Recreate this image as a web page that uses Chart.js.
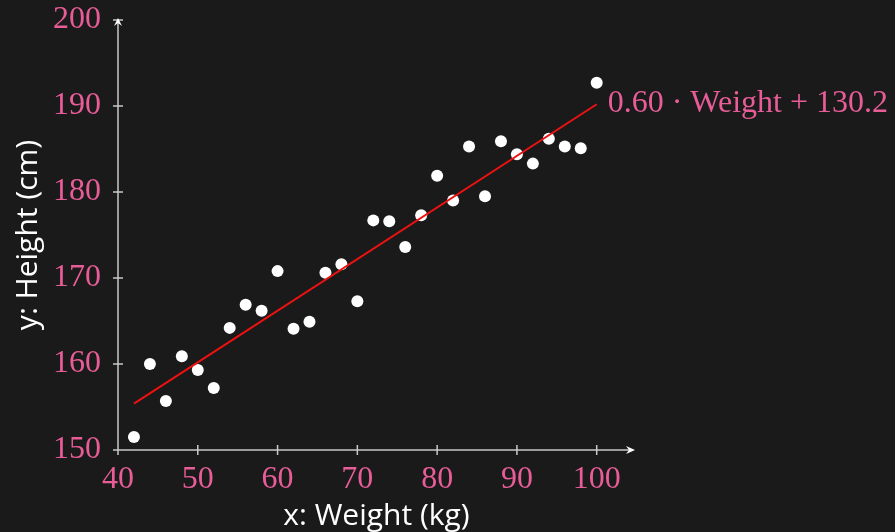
<!DOCTYPE html>
<html lang="en">
    <head>
        <title> Weight vs Height </title>
        <script src="https://cdn.jsdelivr.net/npm/chart.js@4.4.1/dist/chart.umd.min.js"></script>
        <style>
            html, body { margin: 0; padding: 0; background: #1a1a1a; }
            #wrap { width: 895px; height: 532px; }
        </style>
    </head>

    <body>
        <div id="wrap"><canvas id="myChart"></canvas></div>

        <script>

            const weights = [42, 44, 46, 48, 50, 52, 54, 56, 58, 60, 62, 64, 66, 68, 70,
                             72, 74, 76, 78, 80, 82, 84, 86, 88, 90, 92, 94, 96, 98, 100];
            const heights = [151.5, 160.0, 155.7, 160.9, 159.3, 157.2, 164.2, 166.9, 166.2, 170.8,
                             164.1, 164.9, 170.6, 171.6, 167.3, 176.7, 176.6, 173.6, 177.3, 181.9,
                             179.0, 185.3, 179.5, 185.9, 184.4, 183.3, 186.2, 185.3, 185.1, 192.7];
            const slope = 0.60;
            const intercept = 130.2;
            const xTicks = [40, 50, 60, 70, 80, 90, 100];
            const yTicks = [150, 160, 170, 180, 190, 200];
            const fitLabel = '0.60 \u00B7 Weight + 130.2';

            const PINK = '#e85d98';
            const AXIS = '#c8c8c8';
            const SERIF = '"Liberation Serif", "DejaVu Serif", serif';
            const SANS = '"Open Sans", "DejaVu Sans", sans-serif';

            const points = weights.map ((w, i) => ({ x: w, y: heights [i] }));
            const xFirst = weights [0];
            const xLast = weights [weights.length - 1];
            const fitLine = [
                { x: xFirst, y: slope * xFirst + intercept },
                { x: xLast, y: slope * xLast + intercept }
            ];

            // axes with crossing tick marks, arrowheads and the fit label
            const axesPlugin = {
                id: 'axesPlugin',
                beforeDraw (chart) {
                    const c = chart.ctx;
                    c.save ();
                    c.fillStyle = '#1a1a1a';
                    c.fillRect (0, 0, chart.width, chart.height);
                    c.restore ();
                },
                afterDatasetsDraw (chart) {
                    const c = chart.ctx;
                    const area = chart.chartArea;
                    const xs = chart.scales.x;
                    const ys = chart.scales.y;
                    const x0 = area.left;
                    const y0 = area.bottom;

                    c.save ();
                    c.strokeStyle = AXIS;
                    c.lineWidth = 1.5;
                    c.beginPath ();
                    c.moveTo (x0, y0);
                    c.lineTo (area.right - 4, y0);
                    c.moveTo (x0, y0);
                    c.lineTo (x0, area.top + 2);
                    xTicks.forEach (t => {
                        const px = xs.getPixelForValue (t);
                        c.moveTo (px, y0 - 5);
                        c.lineTo (px, y0 + 5);
                    });
                    yTicks.forEach (t => {
                        const py = ys.getPixelForValue (t);
                        c.moveTo (x0 - 5, py);
                        c.lineTo (x0 + 5, py);
                    });
                    c.stroke ();

                    c.fillStyle = '#ffffff';
                    c.beginPath ();
                    c.moveTo (area.right, y0);
                    c.lineTo (area.right - 9, y0 - 4);
                    c.lineTo (area.right - 6, y0);
                    c.lineTo (area.right - 9, y0 + 4);
                    c.closePath ();
                    c.fill ();
                    c.beginPath ();
                    c.moveTo (x0, area.top - 2);
                    c.lineTo (x0 - 4, area.top + 6);
                    c.lineTo (x0, area.top + 3);
                    c.lineTo (x0 + 4, area.top + 6);
                    c.closePath ();
                    c.fill ();

                    const end = fitLine [1];
                    c.fillStyle = PINK;
                    c.font = '32px ' + SERIF;
                    c.textAlign = 'left';
                    c.textBaseline = 'middle';
                    c.fillText (fitLabel, xs.getPixelForValue (end.x) + 11, ys.getPixelForValue (end.y) - 1);
                    c.restore ();
                }
            };

            const chartContext = document.getElementById ('myChart').getContext ('2d');
            const myChart = new Chart (chartContext, {
                type: 'scatter',
                data: {
                    datasets: [
                        {
                            label: 'Fit',
                            type: 'line',
                            data: fitLine,
                            borderColor: '#ee1111',
                            borderWidth: 2,
                            pointRadius: 0,
                            fill: false,
                            order: 1
                        },
                        {
                            label: 'Samples',
                            data: points,
                            backgroundColor: '#ffffff',
                            borderWidth: 0,
                            pointRadius: 6,
                            pointHoverRadius: 6,
                            order: 2
                        }
                    ]
                },
                options: {
                    responsive: true,
                    maintainAspectRatio: false,
                    animation: false,
                    layout: { padding: { top: 20, right: 260, left: 0, bottom: 0 } },
                    plugins: {
                        legend: { display: false },
                        tooltip: { enabled: false }
                    },
                    scales: {
                        x: {
                            type: 'linear',
                            min: 40,
                            max: 104.8,
                            grid: { display: false, drawTicks: false },
                            border: { display: false },
                            afterBuildTicks: scale => { scale.ticks = xTicks.map (v => ({ value: v })); },
                            afterFit: scale => { scale.height = 82; scale.paddingRight = 0; },
                            ticks: {
                                color: PINK,
                                font: { family: SERIF, size: 32 },
                                padding: 10,
                                maxRotation: 0,
                                autoSkip: false
                            },
                            title: {
                                display: true,
                                text: 'x: Weight (kg)',
                                color: '#ffffff',
                                font: { family: SANS, size: 30 },
                                padding: { top: 0, bottom: -2 }
                            }
                        },
                        y: {
                            type: 'linear',
                            min: 150,
                            max: 200,
                            grid: { display: false, drawTicks: false },
                            border: { display: false },
                            afterBuildTicks: scale => { scale.ticks = yTicks.map (v => ({ value: v })); },
                            afterFit: scale => { scale.width = 118; scale.paddingTop = 0; scale.paddingBottom = 0; },
                            ticks: {
                                color: PINK,
                                font: { family: SERIF, size: 32 },
                                padding: 17,
                                autoSkip: false
                            },
                            title: {
                                display: true,
                                text: 'y: Height (cm)',
                                color: '#ffffff',
                                font: { family: SANS, size: 30 },
                                padding: { top: 10, bottom: 0 }
                            }
                        }
                    }
                },
                plugins: [axesPlugin]
            });

        </script>
    </body>
</html>
